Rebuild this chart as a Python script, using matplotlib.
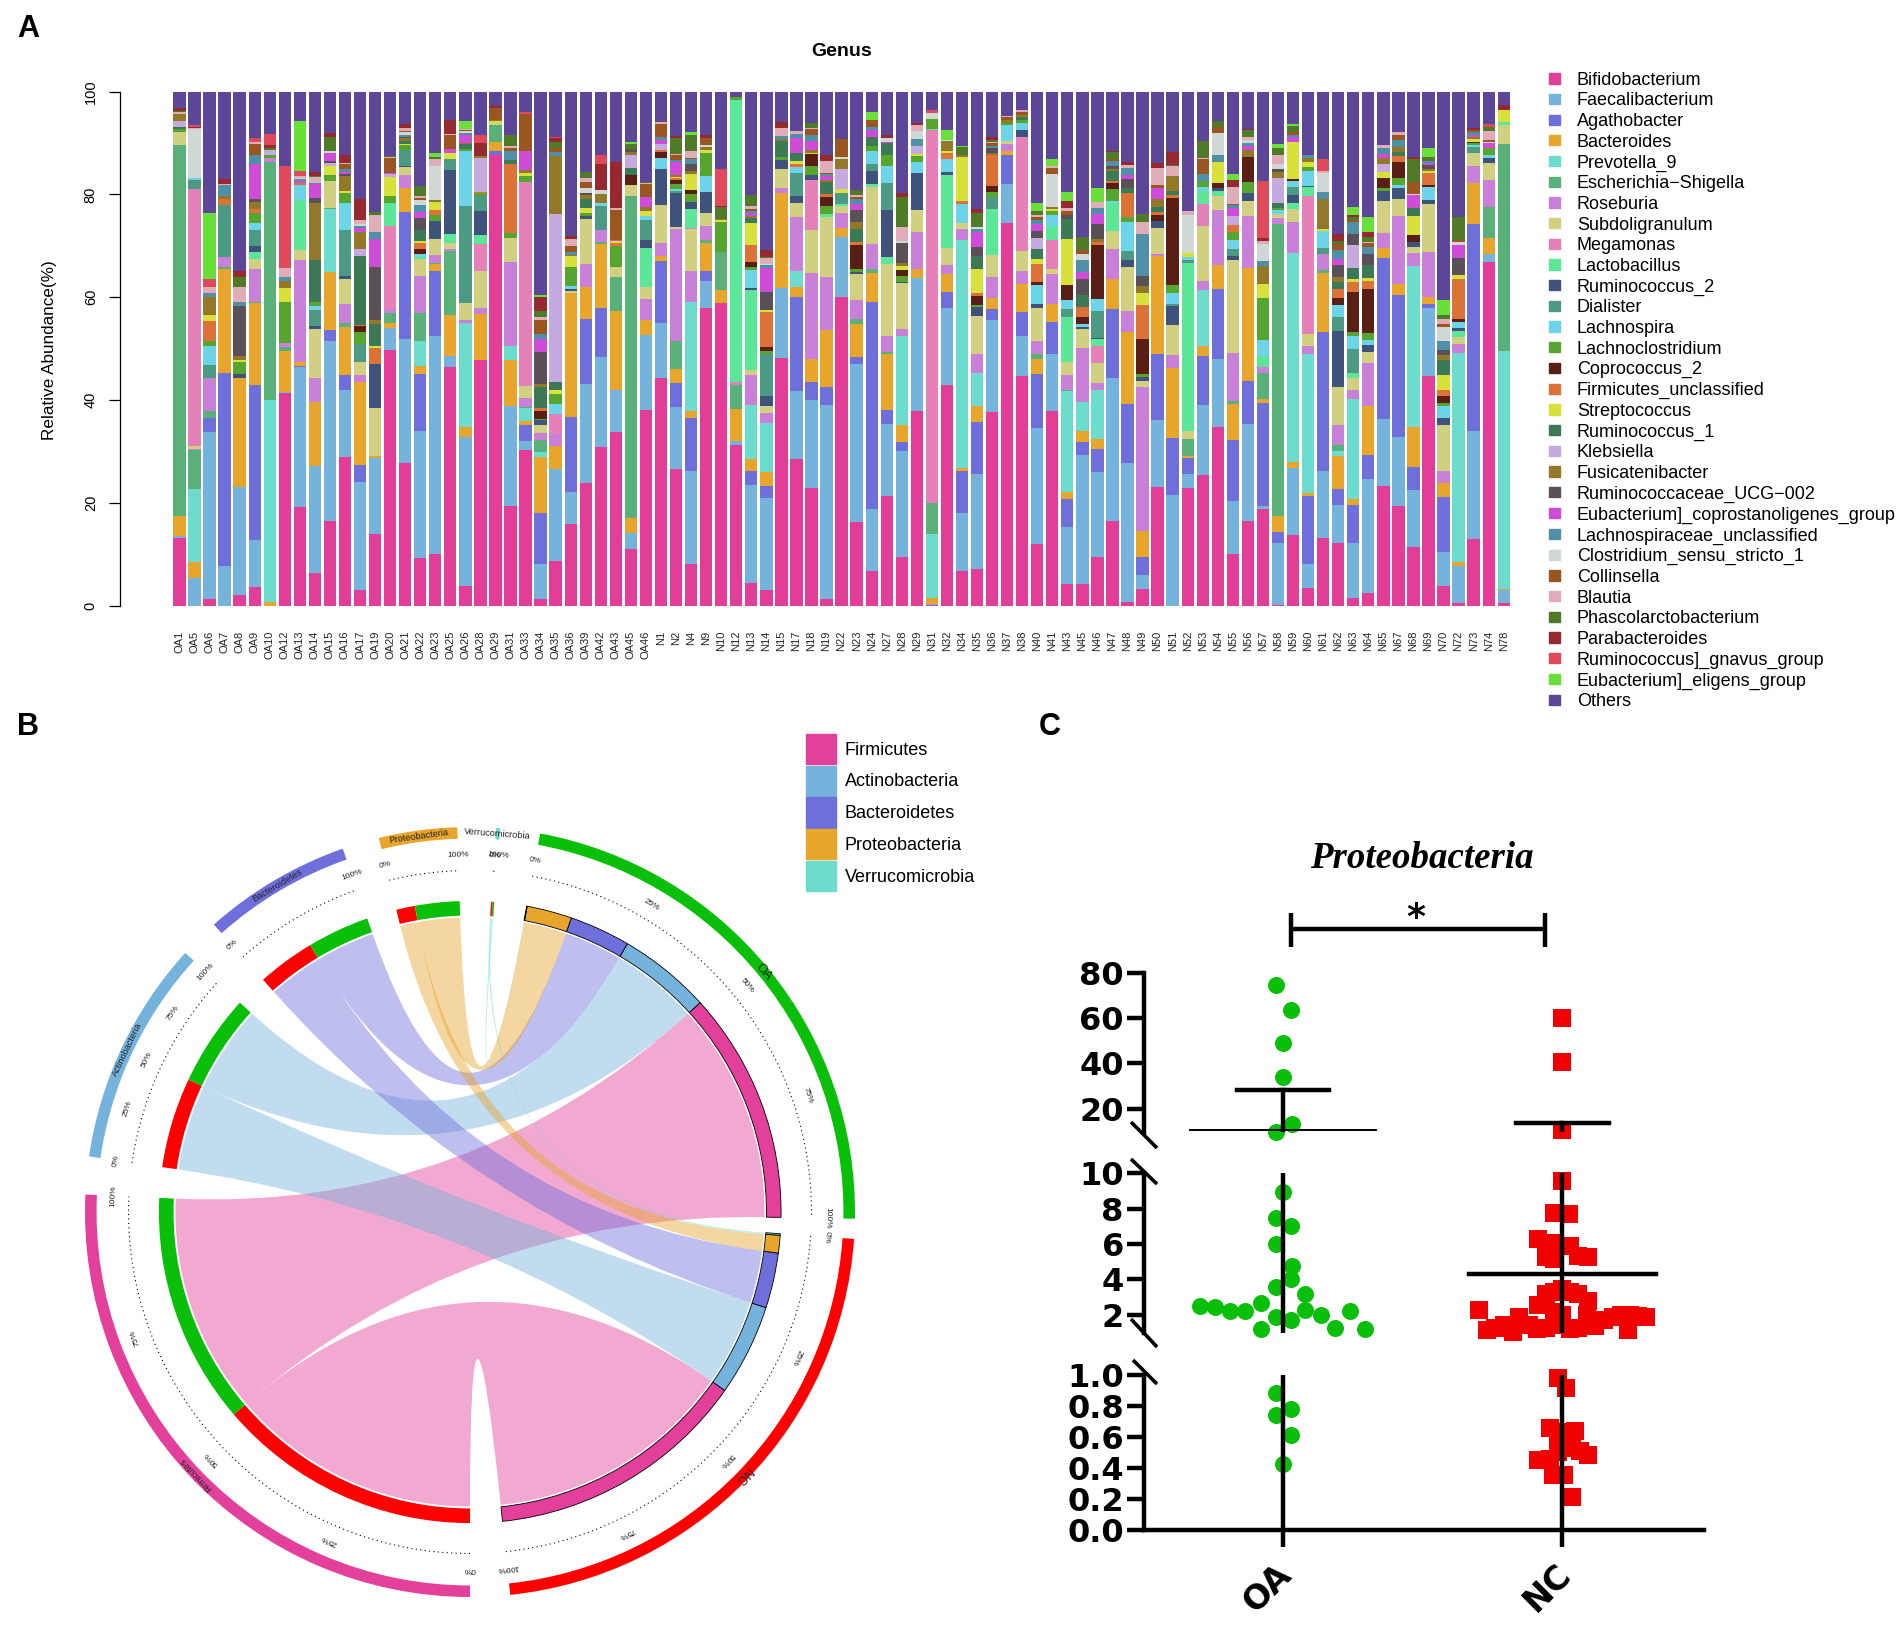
import numpy as np
import matplotlib
matplotlib.use("Agg")
import matplotlib.pyplot as plt
from matplotlib.lines import Line2D
from matplotlib.patches import Patch, PathPatch, Wedge
from matplotlib.path import Path
from matplotlib.transforms import ScaledTranslation

plt.rcParams["font.family"] = ["Liberation Sans", "DejaVu Sans"]

W, H = 1902, 1636

# ---- panel A data ----
genus_names = ["Bifidobacterium", "Faecalibacterium", "Agathobacter", "Bacteroides", "Prevotella_9",
               "Escherichia\u2212Shigella", "Roseburia", "Subdoligranulum", "Megamonas", "Lactobacillus",
               "Ruminococcus_2", "Dialister", "Lachnospira", "Lachnoclostridium", "Coprococcus_2",
               "Firmicutes_unclassified", "Streptococcus", "Ruminococcus_1", "Klebsiella", "Fusicatenibacter",
               "Ruminococcaceae_UCG\u2212002", "Eubacterium]_coprostanoligenes_group", "Lachnospiraceae_unclassified",
               "Clostridium_sensu_stricto_1", "Collinsella", "Blautia", "Phascolarctobacterium", "Parabacteroides",
               "Ruminococcus]_gnavus_group", "Eubacterium]_eligens_group", "Others"]
genus_colors = ["#e23d97", "#76b3dc", "#6f6fdc", "#e8a52c", "#6bdccd", "#59b078", "#c880d8", "#d0d080",
                "#e680b8", "#5ce698", "#3f527c", "#4d9a84", "#6cd4e8", "#55a52f", "#5a1f14", "#dc7236",
                "#d8e03a", "#3b7a55", "#c4aade", "#94782a", "#5a5058", "#cf4cd8", "#4f8fa8", "#cfd8d4",
                "#9a5520", "#e0acb8", "#4f7a28", "#962830", "#e0485c", "#68e038", "#5c4697"]

# each sample: genus index -> relative abundance
OA1 = {0:13,1:.5,3:3.8,5:71.7,7:2.5,13:.5,17:.5,18:1.2,19:1.3,25:.3,26:.3,27:.6,30:3.1}
OA5 = {1:5.3,3:3.2,4:14,5:7.5,6:.3,7:.5,8:49.5,11:1.7,12:.5,23:9.3,25:.2,27:.3,28:.3,30:6.5}
OA6 = {0:1.3,1:32.5,2:2.7,5:1.2,6:6.5,11:2.5,12:3.8,13:.8,15:4,16:1.2,19:3.5,22:.8,25:1,28:1.6,29:12.9,30:23.5}
OA7 = {1:7.7,2:37.3,3:20.2,5:.4,6:1.9,11:10,15:1.2,19:.5,22:2.2,25:.3,27:.8,30:17}
OA8 = {0:2,1:21,3:21.3,10:.7,13:2.5,16:.2,19:.8,20:9.7,22:.8,25:3,26:2,27:1.2,30:34.8}
OA9 = {0:3.6,1:9.2,2:30,3:16,5:.2,6:6.5,7:1.8,9:1.5,10:1,11:3.2,12:1.3,13:2,15:.7,19:1.5,20:.6,21:6.7,22:1.7,24:2.3,25:.3,28:.8,30:9}
OA10 = {3:.8,4:39,5:46.2,6:.8,13:.5,18:1,26:.3,27:.7,28:2,30:8.3}
OA12 = {0:41.2,1:.3,3:8,5:.8,6:.7,13:8,16:2.7,19:1.4,22:.8,25:1.6,28:19.8,30:14.5}
OA13 = {0:19.3,1:27.1,2:.2,3:.9,6:19.9,7:1.8,9:9.8,12:3,15:.3,21:.3,22:.4,23:.3,25:.3,28:1,29:9.8,30:5.7}
OA14 = {0:6.4,1:20.7,3:12.6,6:4.5,7:9.6,10:.7,11:3.1,12:.6,13:.8,17:8.3,19:11,20:1.1,21:2.6,22:.3,25:1,26:.2,27:.8,30:15.7}
OA15 = {0:16.4,1:35,2:2.2,3:11.2,4:12.2,5:.3,7:5.2,13:1.1,16:1.9,18:.6,20:.3,21:1.5,23:.5,26:2.7,27:.8,30:8}
OA16 = {0:29,1:12.9,2:2.9,3:9.4,5:.8,6:3.7,7:4.9,10:.6,11:8.8,12:5.4,13:1.9,16:.3,19:3,20:.4,21:.3,22:.7,24:.9,25:.3,27:1.5,30:12.3}
OA17 = {0:3.1,1:20.6,2:3.4,3:15.8,6:1.4,7:2.6,11:3.4,13:2.3,14:1.2,15:.2,17:13.3,18:1.2,19:3.3,21:.7,22:.5,23:.3,25:.9,27:3.9,28:.1,30:20.6}
OA19 = {0:14,1:14.7,3:.3,7:9.5,10:8.4,15:3.2,16:.3,17:4.3,19:.9,20:10.3,21:5.3,22:1.4,25:3.3,26:.7,30:23.3}
OA20 = {0:49.7,1:4.3,3:.9,5:2,6:.9,8:16.1,9:4.4,13:1.3,16:3.8,18:.5,21:.3,24:2.9,25:.2,26:.2,30:12.5}
OA21 = {0:27.5,1:23.8,2:24.5,3:4.6,6:2.6,7:1.5,10:.2,11:3,13:1,16:.3,17:.5,19:.5,20:.3,22:.4,23:.5,24:.3,25:.4,27:.9,30:6.2}
OA22 = {0:9.2,1:24.8,2:11.1,3:1.4,4:4.9,5:5.4,6:7.2,7:3.3,9:.5,12:.6,14:1,15:1.1,16:.4,17:2.2,20:2.3,21:1.2,22:1.3,23:1,24:.4,25:.3,26:2,30:18.3}
OA23 = {0:10.1,1:42.3,2:12.8,3:1.2,5:.3,6:1.6,7:3.1,10:3.4,13:1.2,15:.9,16:1.6,19:.5,23:6.6,25:1.2,26:.4,29:.8,30:12}
OA25 = {0:46.3,1:2.3,3:7.9,5:12.5,6:.3,7:1.1,9:1.9,10:12.4,11:2.1,16:1.2,21:.7,24:2.8,25:.2,27:2.6,30:5.6}
OA26 = {0:3.9,1:28.7,3:2.1,4:20,6:.7,7:3.2,11:18.8,12:10.6,13:.5,17:.9,19:.3,21:1.5,22:.4,23:.3,24:.3,25:.2,29:1.5,30:5.7}
OA28 = {0:47.6,3:8.9,6:1.2,7:7.2,8:5.2,9:1.8,10:4.7,11:2.9,13:.5,15:.3,18:6.6,19:.3,25:.1,27:2.4,28:1.5,30:8.5}
OA29 = {0:87.8,2:.7,3:1.8,5:3.2,7:.5,16:.3,19:.3,24:2.3,27:.3,30:2.9}
OA31 = {0:19.3,1:19.6,3:8.9,4:2.7,6:16.3,7:4.7,13:.9,15:13.6,17:.7,22:1.7,24:.6,25:.4,26:2.2,30:8.4}
OA33 = {0:30.2,1:1.8,2:3.2,3:.7,4:2.6,5:.2,6:1.7,7:2.3,8:39.8,13:1,16:.7,19:.5,21:3.7,24:7.2,28:.4,30:4}
OA34 = {0:1.2,1:6.8,2:9.8,3:10.8,4:1.1,5:2.3,6:1.2,7:1.7,10:.8,13:.3,14:1.6,15:.6,17:3.9,19:.6,20:6.3,21:2.4,22:1,24:2.7,25:.5,26:1.3,27:2.6,29:.4,30:39.2}
OA35 = {0:8.6,1:17.9,3:4.3,6:2.4,8:3.8,12:2,13:1.9,16:.8,17:1.6,18:32.5,19:11.2,22:.7,24:.7,26:1.3,27:.8,28:.2,30:8.7}
OA36 = {0:15.8,1:6.2,2:14.5,3:24,7:.5,10:.3,12:.5,13:3.7,16:2.1,19:.3,22:.5,24:1.2,25:1.3,27:.6,30:28}
OA39 = {0:23.6,1:19,2:12.5,3:6.2,6:4.4,7:8.6,10:.6,13:.6,16:1,17:1.7,19:.8,20:.4,23:1,24:1.2,25:.6,26:1.2,30:15.5}
OA42 = {0:30.9,1:17.5,2:9.6,3:12.3,5:.5,6:2.2,11:4.8,12:.6,19:1.7,23:.7,27:5.2,28:1.6,30:12.4}
OA43 = {0:33.6,1:8.2,3:15.2,5:6.6,7:1.8,13:4.2,15:.6,16:.3,21:.2,24:5.9,25:.3,27:8.8,30:13.7}
OA45 = {0:10.8,1:3.2,3:2.7,5:61.8,7:2,14:1.9,17:1.4,18:2.4,19:.6,20:.6,26:1,29:.4,30:9.6}
OA46 = {0:37.5,1:14.2,3:2.9,6:4,7:2.3,9:7.4,10:1.7,11:3.7,12:.9,16:.8,19:.9,21:1.9,24:2.5,25:.2,26:.1,30:17.3}
N1 = {0:44.2,1:10.8,2:11.9,3:1,6:2.5,7:7.4,10:7,12:2.1,14:1.2,15:.4,18:1.3,21:.6,22:.7,24:2.5,25:.3,30:6}
N2 = {0:26.5,1:12,2:4.6,3:2.7,5:5.4,6:21.7,7:.4,10:6.6,11:.3,12:.5,13:1,14:.6,15:.4,16:.3,19:.3,21:2.5,22:.5,24:.9,25:.3,26:3.1,27:.4,30:8.5}
N4 = {0:8.1,1:18.1,2:10.3,3:1.3,4:21.2,6:6.2,7:8,8:.2,9:3.8,10:1.3,13:1.5,14:.8,16:3.2,19:.5,20:1.5,22:.8,24:.3,25:1.4,26:3,29:.7,30:7.8}
N9 = {0:57.6,1:5.3,2:1.9,3:5.4,5:.7,6:2.6,7:2.5,10:4.2,12:3.1,13:4.4,16:.6,19:.5,23:.4,24:1.5,27:.5,30:8.4}
N10 = {0:58.8,3:2.7,5:7.3,13:5.8,16:.5,19:.2,26:2.3,27:.1,28:7.3,30:15}
N12 = {0:31.2,1:.8,3:6.2,5:4.8,6:.2,8:.3,9:54.8,13:.7,30:1}
N13 = {0:4.4,1:19,2:2.6,3:2.3,4:10.6,6:5.7,7:.9,9:15.5,10:.5,12:3.5,13:.4,14:1.1,15:3.3,16:4.2,17:1,19:.4,21:.5,22:.5,24:.3,25:.5,26:2.2,30:20}
N14 = {0:3.1,1:17.8,2:2.3,3:2.7,4:9.5,6:1.9,7:1.4,10:1.9,11:8.2,13:.5,14:.9,15:6.8,16:.4,20:3.4,21:4.6,22:.6,23:.3,25:1.1,26:.2,27:1.3,30:30.8}
N15 = {0:48,1:13.4,3:18.4,6:1,7:3.7,10:1.8,13:.6,17:3.1,19:.4,22:.6,25:1.5,27:1.2,30:5.8}
N17 = {0:28.5,1:13.3,2:18.2,3:2,4:3,6:10.5,7:2.8,10:1.3,11:4.4,12:1.2,15:.6,16:.6,17:1.6,21:2.9,22:.7,25:.6,30:7.7}
N18 = {0:22.8,1:17.2,2:3.6,3:4.4,6:16.8,7:8.2,8:9.8,10:1,13:1.8,14:2.2,16:.3,19:.5,21:1.8,22:1.1,24:1.2,25:.3,26:.8,30:6.2}
N19 = {0:1.2,1:36.7,2:3.3,3:10.8,6:10,7:11.3,9:.6,13:1.5,14:1.6,15:.6,17:2.3,19:.4,21:.6,22:.4,24:.3,25:2.3,27:1,30:12}
N22 = {0:60,1:11.5,3:1.8,6:2.9,7:1.3,9:.4,11:2.2,16:.7,18:4,19:1.9,23:.4,24:3.5,30:9.2}
N23 = {0:16.2,1:30.6,2:1.3,3:6.5,5:.9,6:3.7,7:5,10:.5,13:.5,14:4.6,15:.6,17:2.6,19:1.3,20:2.3,21:1.2,22:.9,24:.5,25:.4,26:1,30:19}
N24 = {0:6.8,1:12,2:40.2,3:5.8,5:.7,6:4.9,7:11.1,9:.6,10:2.5,11:1.4,12:2.5,13:1,17:1.7,21:1.3,22:.6,24:1.4,29:1.5,30:4}
N27 = {0:21.3,1:14.1,2:2.7,3:10.9,5:.4,6:3.1,7:13.9,9:1.5,10:9,11:5.3,12:3.3,13:2.2,17:2.3,21:.2,23:.8,27:.5,30:8.5}
N28 = {0:9.5,1:20.7,2:1.7,3:3.3,4:17.3,6:1.5,7:8.8,10:.3,13:1.1,14:1.2,16:.8,19:.6,20:3.8,23:.5,25:2.7,26:5.9,27:.7,30:19.8}
N29 = {0:37.8,1:26,3:1.6,6:7.3,7:4.2,10:7.3,12:2.1,13:1.2,16:.3,18:1.6,22:1.4,23:1.5,25:1.3,27:.3,30:6.1}
N31 = {0:.1,1:.2,3:1.2,4:12.5,5:6,8:72.5,9:.3,13:1.8,23:1.2,28:.7,30:3.5}
N32 = {0:43,1:15,2:3,3:3.5,6:1.8,7:3.3,9:14.1,10:.6,12:2.6,15:1.2,16:.4,19:1.9,23:.2,29:1.9,30:7.5}
N34 = {0:6.7,1:11.1,2:8,3:.6,4:43.8,6:2.1,7:1.2,12:3.6,15:.6,16:8.5,19:.3,26:1.6,29:.2,30:10.4}
N35 = {0:7.1,1:18.4,2:10.2,3:3.1,4:6.4,6:3.6,7:7.4,10:1.8,13:.3,14:1.8,15:.6,16:4.5,17:2.7,20:1.7,21:2.8,22:.6,23:.5,26:2.7,27:.7,30:22.8}
N36 = {0:37.5,1:17.9,2:2.1,3:2.2,6:4,7:4.2,9:9,11:2.3,13:1,14:1.2,15:5.9,19:.5,20:.8,22:.5,24:.5,25:.3,26:.3,27:.6,30:8.8}
N37 = {0:74,1:7.5,2:5.7,3:.8,6:1.2,7:.6,12:3.1,13:.5,19:.5,24:.5,25:.3,30:4.7}
N38 = {0:44.6,1:7.9,2:4.7,3:5.4,6:2.6,7:3.8,8:22.2,10:1.3,12:1.3,13:.6,17:.6,19:.5,24:.5,25:.4,30:3.6}
N40 = {0:11.9,1:22.6,2:10.5,3:2.8,5:1,6:2.6,7:6.4,10:.7,12:3.7,14:.5,15:3.5,16:1,17:2,18:2.2,20:1.3,21:1.3,22:.8,24:.5,25:.4,26:.8,29:1.5,30:21.7}
N41 = {0:37.8,1:11,2:6.2,3:3.5,6:5.9,7:1,8:5.6,9:2.8,12:2,13:.8,16:.5,19:.3,23:6.4,24:1.2,25:.4,29:1.3,30:13.1}
N43 = {0:4.1,1:11.1,2:5.3,3:1.3,4:19.4,5:.3,6:2.7,7:2.6,9:8.7,11:1.4,12:1.7,14:2.9,16:8.9,17:3.8,20:.8,24:.8,25:.5,27:1.4,29:1.8,30:19.2}
N45 = {0:4.2,1:25,2:2.5,3:2.1,4:5.6,6:10.4,7:3.7,10:.4,12:.6,14:1.4,15:2,17:2.3,20:3,21:1.4,22:2.3,23:1.2,24:.7,26:2.5,30:28.2}
N46 = {0:9.5,1:16.5,2:4.4,3:2.1,4:9.5,6:1.3,7:4,8:3.3,9:1.3,10:.2,11:5.2,12:2.3,14:10.6,15:.5,19:.7,20:2.8,21:2,22:1.1,25:1.2,29:2.7,30:18.8}
N47 = {0:16.3,1:27.5,2:13.4,3:5.7,6:5.9,7:3.5,9:5.4,12:.4,13:2.3,14:1.1,15:.4,17:1.9,19:.4,20:.5,22:1.1,24:.4,26:1.2,27:.3,30:11.4}
N48 = {0:.7,1:27,2:11.5,3:14,6:4.1,7:8.5,10:1.5,11:1.7,12:5.6,13:1,15:4.6,17:1,20:1.8,21:.8,22:1.4,25:.6,27:.6,30:13.6}
N49 = {0:3.2,1:2.8,2:3.4,3:5.2,6:27.9,7:1.2,10:.7,13:.6,14:6.8,15:6.7,16:2.3,19:1.4,20:2,22:8.1,25:2.3,26:1.6,30:23.8}
N50 = {0:22.5,1:12.7,2:12.5,3:18.5,6:.4,7:4.9,10:1.4,14:1.2,15:.4,17:1,19:1.5,21:2.2,24:.5,25:3.3,27:.8,30:13.6}
N51 = {1:21.5,2:11.2,3:13.5,6:2.6,7:5.8,10:3.7,11:.4,12:2.1,13:1.5,14:17.1,15:.4,17:.8,19:3,25:1.9,26:.2,27:2.6,30:11.7}
N52 = {0:22.7,1:2.7,2:3.1,3:.5,5:3.2,7:1.6,9:32.4,11:.6,12:.7,16:.6,23:7.4,25:.9,30:23}
N53 = {0:25.5,1:13.5,2:9.6,3:1.9,4:11,6:1.7,7:10.8,8:4.3,9:2.5,12:.8,13:1.1,22:1.3,24:2.9,25:.2,26:3.4,30:9.6}
N54 = {0:34.8,1:13.1,2:13.6,3:4.7,6:10.6,7:2.9,9:.9,10:.5,14:1,16:4.1,22:1.4,23:4.3,24:1.2,26:1,30:5.8}
N55 = {0:10,1:10.2,2:11.7,3:6.9,5:.6,6:9.3,7:17.8,10:.8,11:1.4,12:1.7,13:1.5,15:1.4,18:1.7,21:1.5,22:.5,24:.3,25:3.3,27:1.2,29:1.3,30:15.8}
N56 = {0:16.5,1:18.9,2:8.4,3:21.8,6:10.2,7:3,10:1.4,13:2.3,14:4.8,19:1.3,21:.8,22:.6,23:.6,25:.6,26:1.3,27:.3,30:7.2}
N57 = {0:18.8,1:.6,2:20.1,3:.9,5:5,6:1.1,9:2.3,12:3,13:8.2,16:2.8,19:3.5,22:1,23:3.3,25:.6,27:.5,28:11.1,30:17.5}
N58 = {0:.1,1:11.8,2:2.1,3:2.9,5:55.4,6:1.1,7:.8,12:.6,13:.4,17:1,18:4.7,19:1.1,20:.6,23:1,25:1.7,26:1.4,29:.6,30:10}
N59 = {0:13.5,1:13,3:1,4:40.2,6:5.9,7:2.6,9:1.1,10:1.5,11:1.6,12:1.1,14:.4,16:7.1,21:1,22:.4,24:.5,26:1.1,29:.4,30:6.3}
N60 = {0:3.5,1:4.6,2:13.2,3:.6,4:27.1,6:1.5,7:2.4,8:26.7,9:1.8,10:.3,12:2.8,13:.9,16:.9,19:.8,22:.6,30:12.3}
N61 = {0:13.1,1:13.1,2:27,3:11.6,5:.5,6:3.2,11:1.1,12:3.4,16:.3,19:5.8,22:1.5,23:3.7,25:.3,28:2.4,30:13.1}
N62 = {0:12.2,1:7.4,2:3.1,3:6.4,4:.9,5:1.2,6:4,7:7.3,10:11,11:2.7,12:2.3,14:1.3,15:1.9,17:1.3,19:.9,20:2.3,21:1.3,22:1.7,24:1.2,26:.5,27:1.4,30:27.7}
N63 = {0:1.4,1:10.7,2:7.5,3:1.2,4:19.4,6:1.7,7:2.3,9:1,11:4.6,12:2.7,13:.7,14:7.8,15:1.9,16:.5,17:2.3,18:4.4,20:2.1,22:2.3,24:.5,26:.5,27:.4,29:1.5,30:22.5}
N64 = {0:2.5,1:22.1,2:4.6,3:9.5,6:8.3,7:2.2,10:1.4,12:.9,13:1.3,14:8.6,15:1.6,16:.5,17:2.5,20:2.3,22:1.3,24:.7,25:.3,26:.9,27:.9,29:2.9,30:24.4}
N65 = {0:23.2,1:13.1,2:31.2,3:2.1,6:2.9,7:6.2,10:1.8,13:.6,14:2.1,16:1,18:1.6,19:1.2,21:.8,22:1.2,25:.5,30:10.4}
N67 = {0:19.2,1:13.5,2:27.5,3:2.1,6:13.2,7:3.3,10:2,12:.7,13:1.2,14:3.1,15:1.2,17:.8,19:1,22:1.4,24:.9,25:.6,30:7.8}
N68 = {0:11.4,1:11.1,2:4.4,3:7.9,4:31.2,6:2.7,7:1.1,10:1,14:1.4,16:3.6,17:1.5,21:2.5,23:.3,24:2.4,26:4.3,27:.5,30:12.7}
N69 = {0:44.4,1:13.1,2:.8,3:1.2,6:8.8,7:9.2,10:.8,12:2.5,14:.4,15:2.3,16:.3,19:.5,20:.8,21:.4,22:.3,26:.7,29:1.8,30:10.9}
N70 = {0:3.8,1:6.7,2:10.7,3:2.6,6:2.4,7:9,10:1.3,12:2.3,13:.6,14:1.4,15:1.1,16:2.9,17:2.9,19:1.1,20:.8,22:1.9,23:2.7,24:.5,25:1,26:.8,29:3,30:40.4}
N72 = {0:.6,1:7.1,3:.8,4:40.7,6:1.7,7:1.4,9:1.2,10:.5,12:1.2,14:.5,15:7.9,16:.8,20:3.3,21:2.5,23:.5,24:.5,26:4.4,30:24.4}
N73 = {0:12.8,1:20.9,2:39.8,3:7.8,6:3.2,7:2.5,11:1.2,12:.4,13:.4,14:.3,16:.5,19:.4,21:.4,22:.6,24:.3,27:.4,30:7}
N74 = {0:66.5,1:1.7,3:3,5:6.1,6:5.2,7:3.3,10:.9,12:.6,13:1.3,21:1,23:.3,24:.4,25:1.6,26:.9,28:.5,30:6.3}
N78 = {0:.5,1:2.5,3:.2,4:46.3,5:40.4,7:3.6,9:.5,16:2.5,27:.8,30:2.7}

sample_names = ["OA1", "OA5", "OA6", "OA7", "OA8", "OA9", "OA10", "OA12", "OA13", "OA14", "OA15", "OA16", "OA17",
                "OA19", "OA20", "OA21", "OA22", "OA23", "OA25", "OA26", "OA28", "OA29", "OA31", "OA33", "OA34",
                "OA35", "OA36", "OA39", "OA42", "OA43", "OA45", "OA46", "N1", "N2", "N4", "N9", "N10", "N12", "N13",
                "N14", "N15", "N17", "N18", "N19", "N22", "N23", "N24", "N27", "N28", "N29", "N31", "N32", "N34",
                "N35", "N36", "N37", "N38", "N40", "N41", "N43", "N45", "N46", "N47", "N48", "N49", "N50", "N51",
                "N52", "N53", "N54", "N55", "N56", "N57", "N58", "N59", "N60", "N61", "N62", "N63", "N64", "N65",
                "N67", "N68", "N69", "N70", "N72", "N73", "N74", "N78"]
samples = [OA1, OA5, OA6, OA7, OA8, OA9, OA10, OA12, OA13, OA14, OA15, OA16, OA17, OA19, OA20, OA21, OA22, OA23,
           OA25, OA26, OA28, OA29, OA31, OA33, OA34, OA35, OA36, OA39, OA42, OA43, OA45, OA46, N1, N2, N4, N9, N10,
           N12, N13, N14, N15, N17, N18, N19, N22, N23, N24, N27, N28, N29, N31, N32, N34, N35, N36, N37, N38, N40,
           N41, N43, N45, N46, N47, N48, N49, N50, N51, N52, N53, N54, N55, N56, N57, N58, N59, N60, N61, N62, N63,
           N64, N65, N67, N68, N69, N70, N72, N73, N74, N78]

# ---- panel B data: widths of the links in each sector ----
phylum_names = ["Firmicutes", "Actinobacteria", "Bacteroidetes", "Proteobacteria", "Verrucomicrobia"]
phylum_colors = ["#e2409a", "#76b3dc", "#6f6fdc", "#e8a52c", "#6bdccd"]
oa_links = [43.3, 17.3, 11.4, 8.4, 0.1]       # Firm, Actino, Bacteroid, Proteo, Verruco
nc_links = [49.0, 17.1, 10.3, 3.3, 0.3]
phylum_links_nc = [49.4, 16.9, 10.8, 3.5, 0.3]
phylum_links_oa = [43.2, 17.1, 11.6, 8.3, 0.3]
gap_after_oa, gap_after_nc = 3.0, 6.0
phylum_gaps = [5.7, 6.0, 5.6, 5.8, 5.9]

# ---- panel C data ----
oa_top_x = [-.026, .028, 0, 0, .031, -.026]
oa_top_y = [74.4, 63.8, 49, 33.9, 13.4, 10]
oa_mid_x = [0, -.026, .028, -.026, .031, .028, -.026, .08, -.295, -.242, -.19, -.135, -.08, .08, .135, .24, -.026,
            .028, -.08, .186, .295]
oa_mid_y = [8.96, 7.5, 7, 6, 4.74, 4, 3.6, 3.15, 2.5, 2.43, 2.2, 2.2, 2.66, 2.3, 2, 2.2, 1.86, 1.7, 1.2, 1.28, 1.22]
oa_low_x = [-.026, .028, -.026, .028, 0]
oa_low_y = [.885, .777, .744, .613, .423]
nc_top_x = [0, 0, 0]
nc_top_y = [60.2, 40.6, 10.7]
nc_mid_x = [0, -.03, .022, -.087, -.03, .028, -.06, .056, .09, -.03, -.298, -.27, -.24, -.208, -.177, -.154, -.12,
            -.09, -.087, -.06, -.03, 0, .028, .056, .09, -.06, -.03, 0, .028, .056, .087, .118, .149, .18, .21,
            .242, .27, .30, .234, -.03, .09]
nc_mid_y = [9.56, 7.77, 7.69, 6.27, 6.04, 5.9, 5.26, 5.32, 5.26, 5.17, 2.29, 1.13, 1.28, 1.42, 1.05, 1.86, 1.42,
            1.22, 2.58, 3.15, 3.3, 3.44, 3.3, 3.15, 2.78, 1.28, 2.14, 2, 1.22, 1.28, 2, 1.34, 1.71, 1.86, 2, 2,
            1.91, 1.86, 1.13, 1.42, 1.7]
nc_low_x = [-.017, .012, -.045, .044, -.014, .012, .033, .064, .09, -.087, -.045, -.014, -.033, .006, .033]
nc_low_y = [.98, .915, .66, .64, .6, .63, .53, .51, .48, .45, .456, .5, .357, .357, .21]


def box(x0, y0, x1, y1):
    # pixel box (top-left origin) to a figure rectangle
    return [x0 / W, 1 - y1 / H, (x1 - x0) / W, (y1 - y0) / H]


def fig_line(xs, ys, lw=3.2):
    fig.add_artist(Line2D([x / W for x in xs], [1 - y / H for y in ys], color="black", lw=lw,
                          solid_capstyle="butt", transform=fig.transFigure))


fig = plt.figure(figsize=(W / 100, H / 100), dpi=100)

# ---------- panel A ----------
ax_a = fig.add_axes(box(120, 91.6, 1512, 605.7))
abund = np.array([[s.get(g, 0) for g in range(len(genus_names))] for s in samples], dtype=float)
abund = abund / abund.sum(axis=1, keepdims=True) * 100
x = np.arange(len(samples))
bottom = np.zeros(len(samples))
for g, col in enumerate(genus_colors):
    ax_a.bar(x, abund[:, g], width=0.82, bottom=bottom, color=col, linewidth=0)
    bottom += abund[:, g]
ax_a.set_xlim(-3.95, 88.55)
ax_a.set_ylim(0, 100)
for side in ["top", "right", "bottom"]:
    ax_a.spines[side].set_visible(False)
ax_a.spines["left"].set_linewidth(0.9)
ax_a.set_xticks(x)
ax_a.set_xticklabels(sample_names, rotation=90, fontsize=8, color="#222222", va="top")
ax_a.tick_params(axis="x", length=0, pad=18)
ax_a.set_yticks([0, 20, 40, 60, 80, 100])
ax_a.tick_params(axis="y", length=8, width=0.9, pad=8, labelsize=10.5)
for lab in ax_a.get_yticklabels():
    lab.set_rotation(90)
    lab.set_va("center")
fig.text(50 / W, 1 - 350 / H, "Relative Abundance(%)", rotation=90, fontsize=12.3, ha="center", va="center")
fig.text(842 / W, 1 - 51 / H, "Genus", fontsize=14, fontweight="bold", ha="center", va="center")

handles_a = [Patch(color=c) for c in genus_colors]
fig.legend(handles_a, genus_names, loc="upper left", bbox_to_anchor=(1549 / W, 1 - 71.8 / H), frameon=False,
           fontsize=13, handlelength=0.61, handleheight=0.5, handletextpad=0.94, labelspacing=0.202,
           borderaxespad=0, borderpad=0)

# ---------- panel B ----------
R_PX = 385.0
ax_b = fig.add_axes(box(470 - 1.12 * R_PX, 1212 - 1.12 * R_PX, 470 + 1.12 * R_PX, 1212 + 1.12 * R_PX))
ax_b.set_xlim(-1.12, 1.12)
ax_b.set_ylim(-1.12, 1.12)
ax_b.axis("off")


def xy(theta, r):
    # theta in degrees, clockwise from the top
    t = np.radians(theta)
    return r * np.sin(t), r * np.cos(t)


def ring(t0, t1, r0, r1, color, edge="none", lw=0):
    ax_b.add_patch(Wedge((0, 0), r1, 90 - t1, 90 - t0, width=r1 - r0, facecolor=color, edgecolor=edge, linewidth=lw))


def ribbon(a0, a1, b0, b1, color, alpha=0.45, r=0.765):
    ta = np.linspace(a0, a1, 40)
    tb = np.linspace(b0, b1, 40)
    verts = [xy(t, r) for t in ta] + [(0, 0), xy(b0, r)] + [xy(t, r) for t in tb[1:]] + [(0, 0), xy(a0, r)]
    codes = [Path.MOVETO] + [Path.LINETO] * 39 + [Path.CURVE3, Path.CURVE3] + [Path.LINETO] * 39 + [Path.CURVE3, Path.CURVE3]
    ax_b.add_patch(PathPatch(Path(verts, codes), facecolor=color, edgecolor="none", alpha=alpha))


def sector_axis(t0, t1, ticks, name, color, name_size=6.6):
    ring(t0, t1, 0.97, 1.0, color)
    tt = np.linspace(t0, t1, 200)
    px, py = xy(tt, 0.887)
    ax_b.plot(px, py, color="black", lw=0.8, ls=(0, (1, 3)))
    for pct in ticks:
        th = t0 + (t1 - t0) * pct / 100
        tx, ty = xy(th, 0.928)
        ax_b.text(tx, ty, f"{pct}%", fontsize=6, rotation=-th, rotation_mode="anchor", ha="center", va="center",
                  color="#222222")
    th = (t0 + t1) / 2
    tx, ty = xy(th, 0.985)
    ax_b.text(tx, ty, name, fontsize=name_size, rotation=-th, rotation_mode="anchor", ha="center", va="center",
              color="#222222")


ALL_TICKS = [0, 25, 50, 75, 100]
start = 10.5
oa_edges = start + np.concatenate([[0], np.cumsum(oa_links[::-1])])          # Verruco first
nc_start = oa_edges[-1] + gap_after_oa
nc_edges = nc_start + np.concatenate([[0], np.cumsum(nc_links[::-1])])
sector_axis(oa_edges[0], oa_edges[-1], ALL_TICKS, "OA", "#0abf0a", 9)
sector_axis(nc_edges[0], nc_edges[-1], ALL_TICKS, "NC", "#ff0000", 9)

t = nc_edges[-1] + gap_after_nc
for p in range(len(phylum_names)):
    t_nc = phylum_links_nc[p]
    t_oa = phylum_links_oa[p]
    # outer axis of the phylum sector
    sector_axis(t, t + t_nc + t_oa, ALL_TICKS if p < 2 else [0, 100], phylum_names[p], phylum_colors[p])
    ring(t, t + t_nc, 0.77, 0.808, "#ff0000")
    ring(t + t_nc, t + t_nc + t_oa, 0.77, 0.808, "#0abf0a")
    # matching stretch in the OA and NC sectors
    q = len(phylum_names) - 1 - p
    ring(oa_edges[q], oa_edges[q + 1], 0.77, 0.808, phylum_colors[p], "black", 0.6)
    ring(nc_edges[q], nc_edges[q + 1], 0.77, 0.808, phylum_colors[p], "black", 0.6)
    ribbon(oa_edges[q], oa_edges[q + 1], t + t_nc, t + t_nc + t_oa, phylum_colors[p])
    ribbon(nc_edges[q], nc_edges[q + 1], t, t + t_nc, phylum_colors[p])
    t = (t + t_nc + t_oa + phylum_gaps[p]) % 360

handles_b = [Patch(color=c) for c in phylum_colors]
fig.legend(handles_b, phylum_names, loc="upper left", bbox_to_anchor=(806 / W, 1 - 734 / H), frameon=False,
           fontsize=13, handlelength=1.66, handleheight=2.2, handletextpad=0.5, labelspacing=0.08,
           borderaxespad=0, borderpad=0)

# ---------- panel C ----------
xlim_c = (-0.497, 1.505)
ax_top = fig.add_axes(box(1144, 972.8, 1703.5, 1131.5))
ax_mid = fig.add_axes(box(1144, 1173.3, 1703.5, 1332.5))
ax_low = fig.add_axes(box(1144, 1374.8, 1703.5, 1529.9))
for ax, lim, ticks, labels in [(ax_top, (10, 80), [20, 40, 60, 80], ["20", "40", "60", "80"]),
                               (ax_mid, (1, 10), [2, 4, 6, 8, 10], ["2", "4", "6", "8", "10"]),
                               (ax_low, (0, 1), [0, .2, .4, .6, .8, 1], ["0.0", "0.2", "0.4", "0.6", "0.8", "1.0"])]:
    ax.set_xlim(*xlim_c)
    ax.set_ylim(*lim)
    ax.patch.set_alpha(0)
    ax.spines["top"].set_visible(False)
    ax.spines["right"].set_visible(False)
    ax.spines["bottom"].set_visible(False)
    ax.spines["left"].set_linewidth(3.2)
    ax.set_yticks(ticks)
    ax.set_yticklabels(labels, fontsize=23, fontweight="bold", family="DejaVu Sans")
    ax.tick_params(axis="y", length=12.5, width=3.2, pad=2)
    ax.set_xticks([])

ax_top.scatter(oa_top_x, oa_top_y, s=150, color="#0abf0a", linewidths=0, clip_on=False, zorder=2)
ax_mid.scatter(oa_mid_x, oa_mid_y, s=150, color="#0abf0a", linewidths=0, clip_on=False, zorder=2)
ax_low.scatter(oa_low_x, oa_low_y, s=150, color="#0abf0a", linewidths=0, clip_on=False, zorder=2)
ax_top.scatter(np.array(nc_top_x) + 1, nc_top_y, s=150, marker="s", color="#f00000", linewidths=0, clip_on=False, zorder=2)
ax_mid.scatter(np.array(nc_mid_x) + 1, nc_mid_y, s=150, marker="s", color="#f00000", linewidths=0, clip_on=False, zorder=2)
ax_low.scatter(np.array(nc_low_x) + 1, nc_low_y, s=150, marker="s", color="#f00000", linewidths=0, clip_on=False, zorder=2)

# means and error bars
ax_top.plot([0, 0], [10.7, 28.2], color="black", lw=3.2, zorder=3)
ax_top.plot([-.166, .166], [28.2, 28.2], color="black", lw=3.2, zorder=3)
ax_top.plot([-.333, .333], [10.7, 10.7], color="black", lw=1.4, zorder=3)
ax_top.plot([1, 1], [10.7, 13.6], color="black", lw=3.2, zorder=3)
ax_top.plot([.834, 1.166], [13.6, 13.6], color="black", lw=3.2, zorder=3)
ax_mid.plot([.666, 1.334], [4.3, 4.3], color="black", lw=3.2, zorder=3)
for gx in [0, 1]:
    ax_mid.plot([gx, gx], [1.1, 10], color="black", lw=3.2, zorder=3)
    ax_low.plot([gx, gx], [0, 1], color="black", lw=3.2, zorder=3)

ax_low.spines["bottom"].set_visible(True)
ax_low.spines["bottom"].set_linewidth(3.2)
ax_low.set_xticks([0, 1])
ax_low.set_xticklabels(["OA", "NC"], fontsize=24, fontweight="bold", family="DejaVu Sans", rotation=45,
                       ha="right", va="top", rotation_mode="anchor")
ax_low.tick_params(axis="x", length=12, width=3.2, pad=8)
label_shift = ScaledTranslation(-8 / 100, 0, fig.dpi_scale_trans)
for lab in ax_low.get_xticklabels():
    lab.set_transform(lab.get_transform() + label_shift)

# axis breaks
fig_line([1131, 1157], [1122, 1148], lw=2.6)
fig_line([1131, 1157], [1159, 1184], lw=2.6)
fig_line([1131, 1157], [1319, 1347], lw=2.6)
fig_line([1133, 1157], [1360, 1384], lw=2.6)

# significance bracket
fig_line([1290.6, 1545], [929, 929])
fig_line([1290.6, 1290.6], [913, 947])
fig_line([1545, 1545], [913, 947])
fig.text(1416 / W, 1 - 918 / H, "*", fontsize=26, fontweight="bold", family="DejaVu Sans", ha="center", va="center")
fig.text(1421.6 / W, 1 - 859 / H, "Proteobacteria", fontsize=26.6, fontweight="bold", style="italic",
         family="Liberation Serif", ha="center", va="center")

# panel letters
for letter, lx, ly in [("A", 28, 29), ("B", 28, 727), ("C", 1050, 727)]:
    fig.text(lx / W, 1 - ly / H, letter, fontsize=22, fontweight="bold", ha="center", va="center")

fig.savefig("out.png", dpi=100)
